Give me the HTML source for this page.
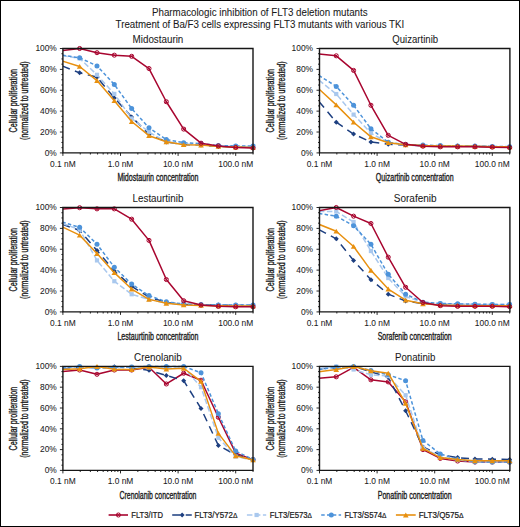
<!DOCTYPE html><html><head><meta charset="utf-8"><style>html,body{margin:0;padding:0;background:#fff;}svg{display:block;font-family:"Liberation Sans",sans-serif;} text{fill:#1a1a1a;stroke:#1a1a1a;stroke-width:0.05px;} text.b{stroke-width:0.35px;fill:#1a1a1a;stroke:#1a1a1a;} text.l{stroke-width:0.22px;} text.t{stroke-width:0.06px;}</style></head><body>
<svg width="520" height="527" viewBox="0 0 520 527">
<rect x="0" y="0" width="520" height="527" fill="#fff"/>
<defs><clipPath id="c0"><rect x="62.9" y="0" width="200.1" height="527"/></clipPath><clipPath id="c1"><rect x="319.5" y="0" width="200.4" height="527"/></clipPath></defs>
<text class="t" x="152.0" y="16.0" font-size="10" textLength="215.6" lengthAdjust="spacingAndGlyphs" fill="#1a1a1a">Pharmacologic inhibition of FLT3 deletion mutants</text>
<text class="t" x="115.6" y="28.4" font-size="10" textLength="288.6" lengthAdjust="spacingAndGlyphs" fill="#1a1a1a">Treatment of Ba/F3 cells expressing FLT3 mutants with various TKI</text>
<text class="t" x="157.95" y="42.90" font-size="10" text-anchor="middle" textLength="50.8" lengthAdjust="spacingAndGlyphs" fill="#1a1a1a">Midostaurin</text>
<g clip-path="url(#c0)">
<polyline points="62.31,66.04 79.65,72.83 96.99,77.21 114.32,97.88 131.66,116.99 149.00,134.11 166.34,141.94 183.68,144.44 201.02,145.07 218.36,146.43 235.70,147.05 253.04,147.47" fill="none" stroke="#1d3f80" stroke-width="1.5" stroke-linejoin="round" stroke-dasharray="8 5.5"/>
<path d="M79.65,70.33L82.15,72.83L79.65,75.33L77.15,72.83Z" fill="#1d3f80"/>
<path d="M96.99,74.71L99.49,77.21L96.99,79.71L94.49,77.21Z" fill="#1d3f80"/>
<path d="M114.32,95.38L116.82,97.88L114.32,100.38L111.82,97.88Z" fill="#1d3f80"/>
<path d="M131.66,114.49L134.16,116.99L131.66,119.49L129.16,116.99Z" fill="#1d3f80"/>
<path d="M149.00,131.61L151.50,134.11L149.00,136.61L146.50,134.11Z" fill="#1d3f80"/>
<path d="M166.34,139.44L168.84,141.94L166.34,144.44L163.84,141.94Z" fill="#1d3f80"/>
<path d="M183.68,141.94L186.18,144.44L183.68,146.94L181.18,144.44Z" fill="#1d3f80"/>
<path d="M201.02,142.57L203.52,145.07L201.02,147.57L198.52,145.07Z" fill="#1d3f80"/>
<path d="M218.36,143.93L220.86,146.43L218.36,148.93L215.86,146.43Z" fill="#1d3f80"/>
<path d="M235.70,144.55L238.20,147.05L235.70,149.55L233.20,147.05Z" fill="#1d3f80"/>
<path d="M253.04,144.97L255.54,147.47L253.04,149.97L250.54,147.47Z" fill="#1d3f80"/>
<polyline points="62.31,55.49 79.65,58.42 96.99,74.81 114.32,93.91 131.66,118.45 149.00,132.02 166.34,141.94 183.68,143.92 201.02,144.97 218.36,145.91 235.70,146.43 253.04,146.43" fill="none" stroke="#a9c8ee" stroke-width="1.5" stroke-linejoin="round" stroke-dasharray="5.5 2.5"/>
<rect x="77.55" y="56.32" width="4.2" height="4.2" fill="#a9c8ee"/>
<rect x="94.89" y="72.71" width="4.2" height="4.2" fill="#a9c8ee"/>
<rect x="112.22" y="91.81" width="4.2" height="4.2" fill="#a9c8ee"/>
<rect x="129.56" y="116.35" width="4.2" height="4.2" fill="#a9c8ee"/>
<rect x="146.90" y="129.92" width="4.2" height="4.2" fill="#a9c8ee"/>
<rect x="164.24" y="139.84" width="4.2" height="4.2" fill="#a9c8ee"/>
<rect x="181.58" y="141.82" width="4.2" height="4.2" fill="#a9c8ee"/>
<rect x="198.92" y="142.87" width="4.2" height="4.2" fill="#a9c8ee"/>
<rect x="216.26" y="143.81" width="4.2" height="4.2" fill="#a9c8ee"/>
<rect x="233.60" y="144.33" width="4.2" height="4.2" fill="#a9c8ee"/>
<rect x="250.94" y="144.33" width="4.2" height="4.2" fill="#a9c8ee"/>
<polyline points="62.31,55.18 79.65,57.79 96.99,65.93 114.32,84.52 131.66,108.53 149.00,127.84 166.34,139.54 183.68,142.67 201.02,143.61 218.36,145.59 235.70,145.91 253.04,145.91" fill="none" stroke="#4d93da" stroke-width="1.5" stroke-linejoin="round" stroke-dasharray="3.5 2.3"/>
<circle cx="79.65" cy="57.79" r="2.5" fill="#4d93da"/>
<circle cx="96.99" cy="65.93" r="2.5" fill="#4d93da"/>
<circle cx="114.32" cy="84.52" r="2.5" fill="#4d93da"/>
<circle cx="131.66" cy="108.53" r="2.5" fill="#4d93da"/>
<circle cx="149.00" cy="127.84" r="2.5" fill="#4d93da"/>
<circle cx="166.34" cy="139.54" r="2.5" fill="#4d93da"/>
<circle cx="183.68" cy="142.67" r="2.5" fill="#4d93da"/>
<circle cx="201.02" cy="143.61" r="2.5" fill="#4d93da"/>
<circle cx="218.36" cy="145.59" r="2.5" fill="#4d93da"/>
<circle cx="235.70" cy="145.91" r="2.5" fill="#4d93da"/>
<circle cx="253.04" cy="145.91" r="2.5" fill="#4d93da"/>
<polyline points="62.31,61.03 79.65,66.46 96.99,80.55 114.32,100.70 131.66,121.48 149.00,135.67 166.34,141.83 183.68,144.65 201.02,145.07 218.36,146.43 235.70,147.05 253.04,147.47" fill="none" stroke="#e8900f" stroke-width="1.5" stroke-linejoin="round"/>
<path d="M79.65,63.96L82.45,68.86L76.85,68.86Z" fill="#e8900f"/>
<path d="M96.99,78.05L99.79,82.95L94.19,82.95Z" fill="#e8900f"/>
<path d="M114.32,98.20L117.12,103.10L111.52,103.10Z" fill="#e8900f"/>
<path d="M131.66,118.98L134.46,123.88L128.86,123.88Z" fill="#e8900f"/>
<path d="M149.00,133.17L151.80,138.07L146.20,138.07Z" fill="#e8900f"/>
<path d="M166.34,139.33L169.14,144.23L163.54,144.23Z" fill="#e8900f"/>
<path d="M183.68,142.15L186.48,147.05L180.88,147.05Z" fill="#e8900f"/>
<path d="M201.02,142.57L203.82,147.47L198.22,147.47Z" fill="#e8900f"/>
<path d="M218.36,143.93L221.16,148.83L215.56,148.83Z" fill="#e8900f"/>
<path d="M235.70,144.55L238.50,149.45L232.90,149.45Z" fill="#e8900f"/>
<path d="M253.04,144.97L255.84,149.87L250.24,149.87Z" fill="#e8900f"/>
<polyline points="62.31,50.59 79.65,48.50 96.99,52.68 114.32,55.18 131.66,56.33 149.00,68.54 166.34,101.74 183.68,129.10 201.02,143.19 218.36,145.91 235.70,147.47 253.04,147.99" fill="none" stroke="#a8052f" stroke-width="1.5" stroke-linejoin="round"/>
<circle cx="79.65" cy="48.50" r="2.05" fill="none" stroke="#a8052f" stroke-width="1.0"/><path d="M78.20,47.05L81.10,49.95M78.20,49.95L81.10,47.05" stroke="#a8052f" stroke-width="0.8"/>
<circle cx="96.99" cy="52.68" r="2.05" fill="none" stroke="#a8052f" stroke-width="1.0"/><path d="M95.54,51.23L98.44,54.13M95.54,54.13L98.44,51.23" stroke="#a8052f" stroke-width="0.8"/>
<circle cx="114.32" cy="55.18" r="2.05" fill="none" stroke="#a8052f" stroke-width="1.0"/><path d="M112.87,53.73L115.77,56.63M112.87,56.63L115.77,53.73" stroke="#a8052f" stroke-width="0.8"/>
<circle cx="131.66" cy="56.33" r="2.05" fill="none" stroke="#a8052f" stroke-width="1.0"/><path d="M130.21,54.88L133.11,57.78M130.21,57.78L133.11,54.88" stroke="#a8052f" stroke-width="0.8"/>
<circle cx="149.00" cy="68.54" r="2.05" fill="none" stroke="#a8052f" stroke-width="1.0"/><path d="M147.55,67.09L150.45,69.99M147.55,69.99L150.45,67.09" stroke="#a8052f" stroke-width="0.8"/>
<circle cx="166.34" cy="101.74" r="2.05" fill="none" stroke="#a8052f" stroke-width="1.0"/><path d="M164.89,100.29L167.79,103.19M164.89,103.19L167.79,100.29" stroke="#a8052f" stroke-width="0.8"/>
<circle cx="183.68" cy="129.10" r="2.05" fill="none" stroke="#a8052f" stroke-width="1.0"/><path d="M182.23,127.65L185.13,130.55M182.23,130.55L185.13,127.65" stroke="#a8052f" stroke-width="0.8"/>
<circle cx="201.02" cy="143.19" r="2.05" fill="none" stroke="#a8052f" stroke-width="1.0"/><path d="M199.57,141.74L202.47,144.64M199.57,144.64L202.47,141.74" stroke="#a8052f" stroke-width="0.8"/>
<circle cx="218.36" cy="145.91" r="2.05" fill="none" stroke="#a8052f" stroke-width="1.0"/><path d="M216.91,144.46L219.81,147.36M216.91,147.36L219.81,144.46" stroke="#a8052f" stroke-width="0.8"/>
<circle cx="235.70" cy="147.47" r="2.05" fill="none" stroke="#a8052f" stroke-width="1.0"/><path d="M234.25,146.02L237.15,148.92M234.25,148.92L237.15,146.02" stroke="#a8052f" stroke-width="0.8"/>
<circle cx="253.04" cy="147.99" r="2.05" fill="none" stroke="#a8052f" stroke-width="1.0"/><path d="M251.59,146.54L254.49,149.44M251.59,149.44L254.49,146.54" stroke="#a8052f" stroke-width="0.8"/>
</g>
<path d="M62.9,48.5H253.0V152.9H62.9Z" fill="none" stroke="#161616" stroke-width="1.4"/>
<path d="M59.90,48.50H62.9 M61.40,53.72H62.9 M61.40,58.94H62.9 M61.40,64.16H62.9 M59.90,69.38H62.9 M61.40,74.60H62.9 M61.40,79.82H62.9 M61.40,85.04H62.9 M59.90,90.26H62.9 M61.40,95.48H62.9 M61.40,100.70H62.9 M61.40,105.92H62.9 M59.90,111.14H62.9 M61.40,116.36H62.9 M61.40,121.58H62.9 M61.40,126.80H62.9 M59.90,132.02H62.9 M61.40,137.24H62.9 M61.40,142.46H62.9 M61.40,147.68H62.9 M59.90,152.90H62.9 M62.90,152.9V155.90 M80.24,152.9V154.50 M90.38,152.9V154.50 M97.58,152.9V154.50 M103.16,152.9V154.50 M107.72,152.9V154.50 M111.58,152.9V154.50 M114.92,152.9V154.50 M117.86,152.9V154.50 M120.50,152.9V155.90 M137.84,152.9V154.50 M147.98,152.9V154.50 M155.18,152.9V154.50 M160.76,152.9V154.50 M165.32,152.9V154.50 M169.18,152.9V154.50 M172.52,152.9V154.50 M175.46,152.9V154.50 M178.10,152.9V155.90 M195.44,152.9V154.50 M205.58,152.9V154.50 M212.78,152.9V154.50 M218.36,152.9V154.50 M222.92,152.9V154.50 M226.78,152.9V154.50 M230.12,152.9V154.50 M233.06,152.9V154.50 M235.70,152.9V155.90 M253.04,152.9V154.50" stroke="#111" stroke-width="0.9" fill="none"/>
<text x="56.80" y="51.30" font-size="8.4" text-anchor="end" fill="#1a1a1a">100%</text>
<text x="56.80" y="72.18" font-size="8.4" text-anchor="end" fill="#1a1a1a">80%</text>
<text x="56.80" y="93.06" font-size="8.4" text-anchor="end" fill="#1a1a1a">60%</text>
<text x="56.80" y="113.94" font-size="8.4" text-anchor="end" fill="#1a1a1a">40%</text>
<text x="56.80" y="134.82" font-size="8.4" text-anchor="end" fill="#1a1a1a">20%</text>
<text x="56.80" y="155.70" font-size="8.4" text-anchor="end" fill="#1a1a1a">0%</text>
<text x="62.90" y="166.70" font-size="8.4" text-anchor="middle" fill="#1a1a1a">0.1 nM</text>
<text x="120.50" y="166.70" font-size="8.4" text-anchor="middle" fill="#1a1a1a">1.0 nM</text>
<text x="178.10" y="166.70" font-size="8.4" text-anchor="middle" fill="#1a1a1a">10.0 nM</text>
<text x="235.70" y="166.70" font-size="8.4" text-anchor="middle" fill="#1a1a1a">100.0 nM</text>
<text x="157.95" y="180.60" font-size="10.6" class="b" text-anchor="middle" textLength="81.1" lengthAdjust="spacingAndGlyphs" fill="#1a1a1a">Midostaurin concentration</text>
<text transform="translate(16.50,100.70) rotate(-90)" x="0" y="0" font-size="10.4" class="b" text-anchor="middle" textLength="63.6" lengthAdjust="spacingAndGlyphs" fill="#1a1a1a">Cellular proliferation</text>
<text transform="translate(27.60,100.70) rotate(-90)" x="0" y="0" font-size="10.4" class="b" text-anchor="middle" textLength="78.4" lengthAdjust="spacingAndGlyphs" fill="#1a1a1a">(normalized to untreated)</text>
<text class="t" x="415.20" y="42.90" font-size="10" text-anchor="middle" textLength="45.8" lengthAdjust="spacingAndGlyphs" fill="#1a1a1a">Quizartinib</text>
<g clip-path="url(#c1)">
<polyline points="318.91,101.43 336.25,122.21 353.59,134.11 370.92,141.94 388.26,144.23 405.60,145.07 422.94,145.59 440.28,145.91 457.62,146.11 474.96,146.32 492.30,146.64 509.64,146.84" fill="none" stroke="#1d3f80" stroke-width="1.5" stroke-linejoin="round" stroke-dasharray="8 5.5"/>
<path d="M336.25,119.71L338.75,122.21L336.25,124.71L333.75,122.21Z" fill="#1d3f80"/>
<path d="M353.59,131.61L356.09,134.11L353.59,136.61L351.09,134.11Z" fill="#1d3f80"/>
<path d="M370.92,139.44L373.42,141.94L370.92,144.44L368.42,141.94Z" fill="#1d3f80"/>
<path d="M388.26,141.73L390.76,144.23L388.26,146.73L385.76,144.23Z" fill="#1d3f80"/>
<path d="M405.60,142.57L408.10,145.07L405.60,147.57L403.10,145.07Z" fill="#1d3f80"/>
<path d="M422.94,143.09L425.44,145.59L422.94,148.09L420.44,145.59Z" fill="#1d3f80"/>
<path d="M440.28,143.41L442.78,145.91L440.28,148.41L437.78,145.91Z" fill="#1d3f80"/>
<path d="M457.62,143.61L460.12,146.11L457.62,148.61L455.12,146.11Z" fill="#1d3f80"/>
<path d="M474.96,143.82L477.46,146.32L474.96,148.82L472.46,146.32Z" fill="#1d3f80"/>
<path d="M492.30,144.14L494.80,146.64L492.30,149.14L489.80,146.64Z" fill="#1d3f80"/>
<path d="M509.64,144.34L512.14,146.84L509.64,149.34L507.14,146.84Z" fill="#1d3f80"/>
<polyline points="318.91,80.13 336.25,94.02 353.59,114.59 370.92,133.06 388.26,142.88 405.60,144.76 422.94,145.59 440.28,145.91 457.62,146.11 474.96,146.32 492.30,146.64 509.64,146.84" fill="none" stroke="#a9c8ee" stroke-width="1.5" stroke-linejoin="round" stroke-dasharray="5.5 2.5"/>
<rect x="334.15" y="91.92" width="4.2" height="4.2" fill="#a9c8ee"/>
<rect x="351.49" y="112.49" width="4.2" height="4.2" fill="#a9c8ee"/>
<rect x="368.82" y="130.96" width="4.2" height="4.2" fill="#a9c8ee"/>
<rect x="386.16" y="140.78" width="4.2" height="4.2" fill="#a9c8ee"/>
<rect x="403.50" y="142.66" width="4.2" height="4.2" fill="#a9c8ee"/>
<rect x="420.84" y="143.49" width="4.2" height="4.2" fill="#a9c8ee"/>
<rect x="438.18" y="143.81" width="4.2" height="4.2" fill="#a9c8ee"/>
<rect x="455.52" y="144.01" width="4.2" height="4.2" fill="#a9c8ee"/>
<rect x="472.86" y="144.22" width="4.2" height="4.2" fill="#a9c8ee"/>
<rect x="490.20" y="144.54" width="4.2" height="4.2" fill="#a9c8ee"/>
<rect x="507.54" y="144.74" width="4.2" height="4.2" fill="#a9c8ee"/>
<polyline points="318.91,75.44 336.25,86.40 353.59,105.29 370.92,128.78 388.26,142.25 405.60,144.55 422.94,145.07 440.28,145.59 457.62,145.91 474.96,146.11 492.30,146.43 509.64,146.64" fill="none" stroke="#4d93da" stroke-width="1.5" stroke-linejoin="round" stroke-dasharray="3.5 2.3"/>
<circle cx="336.25" cy="86.40" r="2.5" fill="#4d93da"/>
<circle cx="353.59" cy="105.29" r="2.5" fill="#4d93da"/>
<circle cx="370.92" cy="128.78" r="2.5" fill="#4d93da"/>
<circle cx="388.26" cy="142.25" r="2.5" fill="#4d93da"/>
<circle cx="405.60" cy="144.55" r="2.5" fill="#4d93da"/>
<circle cx="422.94" cy="145.07" r="2.5" fill="#4d93da"/>
<circle cx="440.28" cy="145.59" r="2.5" fill="#4d93da"/>
<circle cx="457.62" cy="145.91" r="2.5" fill="#4d93da"/>
<circle cx="474.96" cy="146.11" r="2.5" fill="#4d93da"/>
<circle cx="492.30" cy="146.43" r="2.5" fill="#4d93da"/>
<circle cx="509.64" cy="146.64" r="2.5" fill="#4d93da"/>
<polyline points="318.91,89.01 336.25,104.88 353.59,122.21 370.92,136.82 388.26,142.67 405.60,144.76 422.94,145.59 440.28,145.91 457.62,146.11 474.96,146.32 492.30,146.64 509.64,146.84" fill="none" stroke="#e8900f" stroke-width="1.5" stroke-linejoin="round"/>
<path d="M336.25,102.38L339.05,107.28L333.45,107.28Z" fill="#e8900f"/>
<path d="M353.59,119.71L356.39,124.61L350.79,124.61Z" fill="#e8900f"/>
<path d="M370.92,134.32L373.72,139.22L368.12,139.22Z" fill="#e8900f"/>
<path d="M388.26,140.17L391.06,145.07L385.46,145.07Z" fill="#e8900f"/>
<path d="M405.60,142.26L408.40,147.16L402.80,147.16Z" fill="#e8900f"/>
<path d="M422.94,143.09L425.74,147.99L420.14,147.99Z" fill="#e8900f"/>
<path d="M440.28,143.41L443.08,148.31L437.48,148.31Z" fill="#e8900f"/>
<path d="M457.62,143.61L460.42,148.51L454.82,148.51Z" fill="#e8900f"/>
<path d="M474.96,143.82L477.76,148.72L472.16,148.72Z" fill="#e8900f"/>
<path d="M492.30,144.14L495.10,149.04L489.50,149.04Z" fill="#e8900f"/>
<path d="M509.64,144.34L512.44,149.24L506.84,149.24Z" fill="#e8900f"/>
<polyline points="318.91,54.03 336.25,55.81 353.59,70.42 370.92,105.29 388.26,135.36 405.60,144.34 422.94,146.22 440.28,146.84 457.62,146.84 474.96,146.84 492.30,147.16 509.64,147.58" fill="none" stroke="#a8052f" stroke-width="1.5" stroke-linejoin="round"/>
<circle cx="336.25" cy="55.81" r="2.05" fill="none" stroke="#a8052f" stroke-width="1.0"/><path d="M334.80,54.36L337.70,57.26M334.80,57.26L337.70,54.36" stroke="#a8052f" stroke-width="0.8"/>
<circle cx="353.59" cy="70.42" r="2.05" fill="none" stroke="#a8052f" stroke-width="1.0"/><path d="M352.14,68.97L355.04,71.87M352.14,71.87L355.04,68.97" stroke="#a8052f" stroke-width="0.8"/>
<circle cx="370.92" cy="105.29" r="2.05" fill="none" stroke="#a8052f" stroke-width="1.0"/><path d="M369.47,103.84L372.37,106.74M369.47,106.74L372.37,103.84" stroke="#a8052f" stroke-width="0.8"/>
<circle cx="388.26" cy="135.36" r="2.05" fill="none" stroke="#a8052f" stroke-width="1.0"/><path d="M386.81,133.91L389.71,136.81M386.81,136.81L389.71,133.91" stroke="#a8052f" stroke-width="0.8"/>
<circle cx="405.60" cy="144.34" r="2.05" fill="none" stroke="#a8052f" stroke-width="1.0"/><path d="M404.15,142.89L407.05,145.79M404.15,145.79L407.05,142.89" stroke="#a8052f" stroke-width="0.8"/>
<circle cx="422.94" cy="146.22" r="2.05" fill="none" stroke="#a8052f" stroke-width="1.0"/><path d="M421.49,144.77L424.39,147.67M421.49,147.67L424.39,144.77" stroke="#a8052f" stroke-width="0.8"/>
<circle cx="440.28" cy="146.84" r="2.05" fill="none" stroke="#a8052f" stroke-width="1.0"/><path d="M438.83,145.39L441.73,148.29M438.83,148.29L441.73,145.39" stroke="#a8052f" stroke-width="0.8"/>
<circle cx="457.62" cy="146.84" r="2.05" fill="none" stroke="#a8052f" stroke-width="1.0"/><path d="M456.17,145.39L459.07,148.29M456.17,148.29L459.07,145.39" stroke="#a8052f" stroke-width="0.8"/>
<circle cx="474.96" cy="146.84" r="2.05" fill="none" stroke="#a8052f" stroke-width="1.0"/><path d="M473.51,145.39L476.41,148.29M473.51,148.29L476.41,145.39" stroke="#a8052f" stroke-width="0.8"/>
<circle cx="492.30" cy="147.16" r="2.05" fill="none" stroke="#a8052f" stroke-width="1.0"/><path d="M490.85,145.71L493.75,148.61M490.85,148.61L493.75,145.71" stroke="#a8052f" stroke-width="0.8"/>
<circle cx="509.64" cy="147.58" r="2.05" fill="none" stroke="#a8052f" stroke-width="1.0"/><path d="M508.19,146.13L511.09,149.03M508.19,149.03L511.09,146.13" stroke="#a8052f" stroke-width="0.8"/>
</g>
<path d="M319.5,48.5H509.9V152.9H319.5Z" fill="none" stroke="#161616" stroke-width="1.4"/>
<path d="M316.50,48.50H319.5 M318.00,53.72H319.5 M318.00,58.94H319.5 M318.00,64.16H319.5 M316.50,69.38H319.5 M318.00,74.60H319.5 M318.00,79.82H319.5 M318.00,85.04H319.5 M316.50,90.26H319.5 M318.00,95.48H319.5 M318.00,100.70H319.5 M318.00,105.92H319.5 M316.50,111.14H319.5 M318.00,116.36H319.5 M318.00,121.58H319.5 M318.00,126.80H319.5 M316.50,132.02H319.5 M318.00,137.24H319.5 M318.00,142.46H319.5 M318.00,147.68H319.5 M316.50,152.90H319.5 M319.50,152.9V155.90 M336.84,152.9V154.50 M346.98,152.9V154.50 M354.18,152.9V154.50 M359.76,152.9V154.50 M364.32,152.9V154.50 M368.18,152.9V154.50 M371.52,152.9V154.50 M374.46,152.9V154.50 M377.10,152.9V155.90 M394.44,152.9V154.50 M404.58,152.9V154.50 M411.78,152.9V154.50 M417.36,152.9V154.50 M421.92,152.9V154.50 M425.78,152.9V154.50 M429.12,152.9V154.50 M432.06,152.9V154.50 M434.70,152.9V155.90 M452.04,152.9V154.50 M462.18,152.9V154.50 M469.38,152.9V154.50 M474.96,152.9V154.50 M479.52,152.9V154.50 M483.38,152.9V154.50 M486.72,152.9V154.50 M489.66,152.9V154.50 M492.30,152.9V155.90 M509.64,152.9V154.50" stroke="#111" stroke-width="0.9" fill="none"/>
<text x="313.00" y="51.30" font-size="8.4" text-anchor="end" fill="#1a1a1a">100%</text>
<text x="313.00" y="72.18" font-size="8.4" text-anchor="end" fill="#1a1a1a">80%</text>
<text x="313.00" y="93.06" font-size="8.4" text-anchor="end" fill="#1a1a1a">60%</text>
<text x="313.00" y="113.94" font-size="8.4" text-anchor="end" fill="#1a1a1a">40%</text>
<text x="313.00" y="134.82" font-size="8.4" text-anchor="end" fill="#1a1a1a">20%</text>
<text x="313.00" y="155.70" font-size="8.4" text-anchor="end" fill="#1a1a1a">0%</text>
<text x="319.50" y="166.70" font-size="8.4" text-anchor="middle" fill="#1a1a1a">0.1 nM</text>
<text x="377.10" y="166.70" font-size="8.4" text-anchor="middle" fill="#1a1a1a">1.0 nM</text>
<text x="434.70" y="166.70" font-size="8.4" text-anchor="middle" fill="#1a1a1a">10.0 nM</text>
<text x="492.30" y="166.70" font-size="8.4" text-anchor="middle" fill="#1a1a1a">100.0 nM</text>
<text x="414.70" y="180.60" font-size="10.6" class="b" text-anchor="middle" textLength="77.9" lengthAdjust="spacingAndGlyphs" fill="#1a1a1a">Quizartinib concentration</text>
<text transform="translate(273.50,100.70) rotate(-90)" x="0" y="0" font-size="10.4" class="b" text-anchor="middle" textLength="63.6" lengthAdjust="spacingAndGlyphs" fill="#1a1a1a">Cellular proliferation</text>
<text transform="translate(284.60,100.70) rotate(-90)" x="0" y="0" font-size="10.4" class="b" text-anchor="middle" textLength="78.4" lengthAdjust="spacingAndGlyphs" fill="#1a1a1a">(normalized to untreated)</text>
<text class="t" x="157.95" y="201.90" font-size="10" text-anchor="middle" textLength="50.8" lengthAdjust="spacingAndGlyphs" fill="#1a1a1a">Lestaurtinib</text>
<g clip-path="url(#c0)">
<polyline points="62.31,224.31 79.65,230.47 96.99,250.41 114.32,271.08 131.66,286.32 149.00,297.08 166.34,302.50 183.68,304.38 201.02,304.80 218.36,305.11 235.70,305.32 253.04,305.32" fill="none" stroke="#1d3f80" stroke-width="1.5" stroke-linejoin="round" stroke-dasharray="8 5.5"/>
<path d="M79.65,227.97L82.15,230.47L79.65,232.97L77.15,230.47Z" fill="#1d3f80"/>
<path d="M96.99,247.91L99.49,250.41L96.99,252.91L94.49,250.41Z" fill="#1d3f80"/>
<path d="M114.32,268.58L116.82,271.08L114.32,273.58L111.82,271.08Z" fill="#1d3f80"/>
<path d="M131.66,283.82L134.16,286.32L131.66,288.82L129.16,286.32Z" fill="#1d3f80"/>
<path d="M149.00,294.58L151.50,297.08L149.00,299.58L146.50,297.08Z" fill="#1d3f80"/>
<path d="M166.34,300.00L168.84,302.50L166.34,305.00L163.84,302.50Z" fill="#1d3f80"/>
<path d="M183.68,301.88L186.18,304.38L183.68,306.88L181.18,304.38Z" fill="#1d3f80"/>
<path d="M201.02,302.30L203.52,304.80L201.02,307.30L198.52,304.80Z" fill="#1d3f80"/>
<path d="M218.36,302.61L220.86,305.11L218.36,307.61L215.86,305.11Z" fill="#1d3f80"/>
<path d="M235.70,302.82L238.20,305.32L235.70,307.82L233.20,305.32Z" fill="#1d3f80"/>
<path d="M253.04,302.82L255.54,305.32L253.04,307.82L250.54,305.32Z" fill="#1d3f80"/>
<polyline points="62.31,223.47 79.65,229.63 96.99,260.43 114.32,281.21 131.66,294.26 149.00,299.37 166.34,303.03 183.68,304.38 201.02,304.80 218.36,305.11 235.70,305.32 253.04,305.32" fill="none" stroke="#a9c8ee" stroke-width="1.5" stroke-linejoin="round" stroke-dasharray="5.5 2.5"/>
<rect x="77.55" y="227.53" width="4.2" height="4.2" fill="#a9c8ee"/>
<rect x="94.89" y="258.33" width="4.2" height="4.2" fill="#a9c8ee"/>
<rect x="112.22" y="279.11" width="4.2" height="4.2" fill="#a9c8ee"/>
<rect x="129.56" y="292.16" width="4.2" height="4.2" fill="#a9c8ee"/>
<rect x="146.90" y="297.27" width="4.2" height="4.2" fill="#a9c8ee"/>
<rect x="164.24" y="300.93" width="4.2" height="4.2" fill="#a9c8ee"/>
<rect x="181.58" y="302.28" width="4.2" height="4.2" fill="#a9c8ee"/>
<rect x="198.92" y="302.70" width="4.2" height="4.2" fill="#a9c8ee"/>
<rect x="216.26" y="303.01" width="4.2" height="4.2" fill="#a9c8ee"/>
<rect x="233.60" y="303.22" width="4.2" height="4.2" fill="#a9c8ee"/>
<rect x="250.94" y="303.22" width="4.2" height="4.2" fill="#a9c8ee"/>
<polyline points="62.31,222.01 79.65,227.34 96.99,244.14 114.32,267.22 131.66,284.03 149.00,295.61 166.34,301.77 183.68,304.07 201.02,304.59 218.36,304.91 235.70,305.11 253.04,305.11" fill="none" stroke="#4d93da" stroke-width="1.5" stroke-linejoin="round" stroke-dasharray="3.5 2.3"/>
<circle cx="79.65" cy="227.34" r="2.5" fill="#4d93da"/>
<circle cx="96.99" cy="244.14" r="2.5" fill="#4d93da"/>
<circle cx="114.32" cy="267.22" r="2.5" fill="#4d93da"/>
<circle cx="131.66" cy="284.03" r="2.5" fill="#4d93da"/>
<circle cx="149.00" cy="295.61" r="2.5" fill="#4d93da"/>
<circle cx="166.34" cy="301.77" r="2.5" fill="#4d93da"/>
<circle cx="183.68" cy="304.07" r="2.5" fill="#4d93da"/>
<circle cx="201.02" cy="304.59" r="2.5" fill="#4d93da"/>
<circle cx="218.36" cy="304.91" r="2.5" fill="#4d93da"/>
<circle cx="235.70" cy="305.11" r="2.5" fill="#4d93da"/>
<circle cx="253.04" cy="305.11" r="2.5" fill="#4d93da"/>
<polyline points="62.31,226.92 79.65,235.17 96.99,253.54 114.32,272.65 131.66,289.04 149.00,299.37 166.34,303.23 183.68,304.91 201.02,305.43 218.36,305.74 235.70,305.95 253.04,305.95" fill="none" stroke="#e8900f" stroke-width="1.5" stroke-linejoin="round"/>
<path d="M79.65,232.67L82.45,237.57L76.85,237.57Z" fill="#e8900f"/>
<path d="M96.99,251.04L99.79,255.94L94.19,255.94Z" fill="#e8900f"/>
<path d="M114.32,270.15L117.12,275.05L111.52,275.05Z" fill="#e8900f"/>
<path d="M131.66,286.54L134.46,291.44L128.86,291.44Z" fill="#e8900f"/>
<path d="M149.00,296.87L151.80,301.77L146.20,301.77Z" fill="#e8900f"/>
<path d="M166.34,300.73L169.14,305.63L163.54,305.63Z" fill="#e8900f"/>
<path d="M183.68,302.41L186.48,307.31L180.88,307.31Z" fill="#e8900f"/>
<path d="M201.02,302.93L203.82,307.83L198.22,307.83Z" fill="#e8900f"/>
<path d="M218.36,303.24L221.16,308.14L215.56,308.14Z" fill="#e8900f"/>
<path d="M235.70,303.45L238.50,308.35L232.90,308.35Z" fill="#e8900f"/>
<path d="M253.04,303.45L255.84,308.35L250.24,308.35Z" fill="#e8900f"/>
<polyline points="62.31,209.17 79.65,207.71 96.99,208.86 114.32,208.86 131.66,219.19 149.00,240.39 166.34,279.54 183.68,300.73 201.02,305.01 218.36,306.37 235.70,306.78 253.04,306.78" fill="none" stroke="#a8052f" stroke-width="1.5" stroke-linejoin="round"/>
<circle cx="79.65" cy="207.71" r="2.05" fill="none" stroke="#a8052f" stroke-width="1.0"/><path d="M78.20,206.26L81.10,209.16M78.20,209.16L81.10,206.26" stroke="#a8052f" stroke-width="0.8"/>
<circle cx="96.99" cy="208.86" r="2.05" fill="none" stroke="#a8052f" stroke-width="1.0"/><path d="M95.54,207.41L98.44,210.31M95.54,210.31L98.44,207.41" stroke="#a8052f" stroke-width="0.8"/>
<circle cx="114.32" cy="208.86" r="2.05" fill="none" stroke="#a8052f" stroke-width="1.0"/><path d="M112.87,207.41L115.77,210.31M112.87,210.31L115.77,207.41" stroke="#a8052f" stroke-width="0.8"/>
<circle cx="131.66" cy="219.19" r="2.05" fill="none" stroke="#a8052f" stroke-width="1.0"/><path d="M130.21,217.74L133.11,220.64M130.21,220.64L133.11,217.74" stroke="#a8052f" stroke-width="0.8"/>
<circle cx="149.00" cy="240.39" r="2.05" fill="none" stroke="#a8052f" stroke-width="1.0"/><path d="M147.55,238.94L150.45,241.84M147.55,241.84L150.45,238.94" stroke="#a8052f" stroke-width="0.8"/>
<circle cx="166.34" cy="279.54" r="2.05" fill="none" stroke="#a8052f" stroke-width="1.0"/><path d="M164.89,278.09L167.79,280.99M164.89,280.99L167.79,278.09" stroke="#a8052f" stroke-width="0.8"/>
<circle cx="183.68" cy="300.73" r="2.05" fill="none" stroke="#a8052f" stroke-width="1.0"/><path d="M182.23,299.28L185.13,302.18M182.23,302.18L185.13,299.28" stroke="#a8052f" stroke-width="0.8"/>
<circle cx="201.02" cy="305.01" r="2.05" fill="none" stroke="#a8052f" stroke-width="1.0"/><path d="M199.57,303.56L202.47,306.46M199.57,306.46L202.47,303.56" stroke="#a8052f" stroke-width="0.8"/>
<circle cx="218.36" cy="306.37" r="2.05" fill="none" stroke="#a8052f" stroke-width="1.0"/><path d="M216.91,304.92L219.81,307.82M216.91,307.82L219.81,304.92" stroke="#a8052f" stroke-width="0.8"/>
<circle cx="235.70" cy="306.78" r="2.05" fill="none" stroke="#a8052f" stroke-width="1.0"/><path d="M234.25,305.33L237.15,308.23M234.25,308.23L237.15,305.33" stroke="#a8052f" stroke-width="0.8"/>
<circle cx="253.04" cy="306.78" r="2.05" fill="none" stroke="#a8052f" stroke-width="1.0"/><path d="M251.59,305.33L254.49,308.23M251.59,308.23L254.49,305.33" stroke="#a8052f" stroke-width="0.8"/>
</g>
<path d="M62.9,207.5H253.0V311.9H62.9Z" fill="none" stroke="#161616" stroke-width="1.4"/>
<path d="M59.90,207.50H62.9 M61.40,212.72H62.9 M61.40,217.94H62.9 M61.40,223.16H62.9 M59.90,228.38H62.9 M61.40,233.60H62.9 M61.40,238.82H62.9 M61.40,244.04H62.9 M59.90,249.26H62.9 M61.40,254.48H62.9 M61.40,259.70H62.9 M61.40,264.92H62.9 M59.90,270.14H62.9 M61.40,275.36H62.9 M61.40,280.58H62.9 M61.40,285.80H62.9 M59.90,291.02H62.9 M61.40,296.24H62.9 M61.40,301.46H62.9 M61.40,306.68H62.9 M59.90,311.90H62.9 M62.90,311.9V314.90 M80.24,311.9V313.50 M90.38,311.9V313.50 M97.58,311.9V313.50 M103.16,311.9V313.50 M107.72,311.9V313.50 M111.58,311.9V313.50 M114.92,311.9V313.50 M117.86,311.9V313.50 M120.50,311.9V314.90 M137.84,311.9V313.50 M147.98,311.9V313.50 M155.18,311.9V313.50 M160.76,311.9V313.50 M165.32,311.9V313.50 M169.18,311.9V313.50 M172.52,311.9V313.50 M175.46,311.9V313.50 M178.10,311.9V314.90 M195.44,311.9V313.50 M205.58,311.9V313.50 M212.78,311.9V313.50 M218.36,311.9V313.50 M222.92,311.9V313.50 M226.78,311.9V313.50 M230.12,311.9V313.50 M233.06,311.9V313.50 M235.70,311.9V314.90 M253.04,311.9V313.50" stroke="#111" stroke-width="0.9" fill="none"/>
<text x="56.80" y="210.30" font-size="8.4" text-anchor="end" fill="#1a1a1a">100%</text>
<text x="56.80" y="231.18" font-size="8.4" text-anchor="end" fill="#1a1a1a">80%</text>
<text x="56.80" y="252.06" font-size="8.4" text-anchor="end" fill="#1a1a1a">60%</text>
<text x="56.80" y="272.94" font-size="8.4" text-anchor="end" fill="#1a1a1a">40%</text>
<text x="56.80" y="293.82" font-size="8.4" text-anchor="end" fill="#1a1a1a">20%</text>
<text x="56.80" y="314.70" font-size="8.4" text-anchor="end" fill="#1a1a1a">0%</text>
<text x="62.90" y="325.70" font-size="8.4" text-anchor="middle" fill="#1a1a1a">0.1 nM</text>
<text x="120.50" y="325.70" font-size="8.4" text-anchor="middle" fill="#1a1a1a">1.0 nM</text>
<text x="178.10" y="325.70" font-size="8.4" text-anchor="middle" fill="#1a1a1a">10.0 nM</text>
<text x="235.70" y="325.70" font-size="8.4" text-anchor="middle" fill="#1a1a1a">100.0 nM</text>
<text x="157.95" y="339.60" font-size="10.6" class="b" text-anchor="middle" textLength="81.1" lengthAdjust="spacingAndGlyphs" fill="#1a1a1a">Lestaurtinib concentration</text>
<text transform="translate(16.50,259.70) rotate(-90)" x="0" y="0" font-size="10.4" class="b" text-anchor="middle" textLength="63.6" lengthAdjust="spacingAndGlyphs" fill="#1a1a1a">Cellular proliferation</text>
<text transform="translate(27.60,259.70) rotate(-90)" x="0" y="0" font-size="10.4" class="b" text-anchor="middle" textLength="78.4" lengthAdjust="spacingAndGlyphs" fill="#1a1a1a">(normalized to untreated)</text>
<text class="t" x="415.20" y="201.90" font-size="10" text-anchor="middle" textLength="42.8" lengthAdjust="spacingAndGlyphs" fill="#1a1a1a">Sorafenib</text>
<g clip-path="url(#c1)">
<polyline points="318.91,229.63 336.25,238.82 353.59,260.43 370.92,279.64 388.26,294.15 405.60,301.04 422.94,303.55 440.28,304.59 457.62,305.11 474.96,305.32 492.30,305.43 509.64,305.43" fill="none" stroke="#1d3f80" stroke-width="1.5" stroke-linejoin="round" stroke-dasharray="8 5.5"/>
<path d="M336.25,236.32L338.75,238.82L336.25,241.32L333.75,238.82Z" fill="#1d3f80"/>
<path d="M353.59,257.93L356.09,260.43L353.59,262.93L351.09,260.43Z" fill="#1d3f80"/>
<path d="M370.92,277.14L373.42,279.64L370.92,282.14L368.42,279.64Z" fill="#1d3f80"/>
<path d="M388.26,291.65L390.76,294.15L388.26,296.65L385.76,294.15Z" fill="#1d3f80"/>
<path d="M405.60,298.54L408.10,301.04L405.60,303.54L403.10,301.04Z" fill="#1d3f80"/>
<path d="M422.94,301.05L425.44,303.55L422.94,306.05L420.44,303.55Z" fill="#1d3f80"/>
<path d="M440.28,302.09L442.78,304.59L440.28,307.09L437.78,304.59Z" fill="#1d3f80"/>
<path d="M457.62,302.61L460.12,305.11L457.62,307.61L455.12,305.11Z" fill="#1d3f80"/>
<path d="M474.96,302.82L477.46,305.32L474.96,307.82L472.46,305.32Z" fill="#1d3f80"/>
<path d="M492.30,302.93L494.80,305.43L492.30,307.93L489.80,305.43Z" fill="#1d3f80"/>
<path d="M509.64,302.93L512.14,305.43L509.64,307.93L507.14,305.43Z" fill="#1d3f80"/>
<polyline points="318.91,211.47 336.25,211.47 353.59,222.01 370.92,251.03 388.26,278.07 405.60,296.45 422.94,302.50 440.28,303.55 457.62,304.07 474.96,304.38 492.30,304.38 509.64,304.38" fill="none" stroke="#a9c8ee" stroke-width="1.5" stroke-linejoin="round" stroke-dasharray="5.5 2.5"/>
<rect x="334.15" y="209.37" width="4.2" height="4.2" fill="#a9c8ee"/>
<rect x="351.49" y="219.91" width="4.2" height="4.2" fill="#a9c8ee"/>
<rect x="368.82" y="248.93" width="4.2" height="4.2" fill="#a9c8ee"/>
<rect x="386.16" y="275.97" width="4.2" height="4.2" fill="#a9c8ee"/>
<rect x="403.50" y="294.35" width="4.2" height="4.2" fill="#a9c8ee"/>
<rect x="420.84" y="300.40" width="4.2" height="4.2" fill="#a9c8ee"/>
<rect x="438.18" y="301.45" width="4.2" height="4.2" fill="#a9c8ee"/>
<rect x="455.52" y="301.97" width="4.2" height="4.2" fill="#a9c8ee"/>
<rect x="472.86" y="302.28" width="4.2" height="4.2" fill="#a9c8ee"/>
<rect x="490.20" y="302.28" width="4.2" height="4.2" fill="#a9c8ee"/>
<rect x="507.54" y="302.28" width="4.2" height="4.2" fill="#a9c8ee"/>
<polyline points="318.91,213.45 336.25,216.17 353.59,225.77 370.92,244.35 388.26,274.21 405.60,294.15 422.94,302.19 440.28,303.44 457.62,303.86 474.96,304.17 492.30,304.38 509.64,304.38" fill="none" stroke="#4d93da" stroke-width="1.5" stroke-linejoin="round" stroke-dasharray="3.5 2.3"/>
<circle cx="336.25" cy="216.17" r="2.5" fill="#4d93da"/>
<circle cx="353.59" cy="225.77" r="2.5" fill="#4d93da"/>
<circle cx="370.92" cy="244.35" r="2.5" fill="#4d93da"/>
<circle cx="388.26" cy="274.21" r="2.5" fill="#4d93da"/>
<circle cx="405.60" cy="294.15" r="2.5" fill="#4d93da"/>
<circle cx="422.94" cy="302.19" r="2.5" fill="#4d93da"/>
<circle cx="440.28" cy="303.44" r="2.5" fill="#4d93da"/>
<circle cx="457.62" cy="303.86" r="2.5" fill="#4d93da"/>
<circle cx="474.96" cy="304.17" r="2.5" fill="#4d93da"/>
<circle cx="492.30" cy="304.38" r="2.5" fill="#4d93da"/>
<circle cx="509.64" cy="304.38" r="2.5" fill="#4d93da"/>
<polyline points="318.91,224.31 336.25,231.20 353.59,246.44 370.92,270.35 388.26,289.04 405.60,300.21 422.94,303.76 440.28,304.91 457.62,305.43 474.96,305.64 492.30,305.64 509.64,305.64" fill="none" stroke="#e8900f" stroke-width="1.5" stroke-linejoin="round"/>
<path d="M336.25,228.70L339.05,233.60L333.45,233.60Z" fill="#e8900f"/>
<path d="M353.59,243.94L356.39,248.84L350.79,248.84Z" fill="#e8900f"/>
<path d="M370.92,267.85L373.72,272.75L368.12,272.75Z" fill="#e8900f"/>
<path d="M388.26,286.54L391.06,291.44L385.46,291.44Z" fill="#e8900f"/>
<path d="M405.60,297.71L408.40,302.61L402.80,302.61Z" fill="#e8900f"/>
<path d="M422.94,301.26L425.74,306.16L420.14,306.16Z" fill="#e8900f"/>
<path d="M440.28,302.41L443.08,307.31L437.48,307.31Z" fill="#e8900f"/>
<path d="M457.62,302.93L460.42,307.83L454.82,307.83Z" fill="#e8900f"/>
<path d="M474.96,303.14L477.76,308.04L472.16,308.04Z" fill="#e8900f"/>
<path d="M492.30,303.14L495.10,308.04L489.50,308.04Z" fill="#e8900f"/>
<path d="M509.64,303.14L512.44,308.04L506.84,308.04Z" fill="#e8900f"/>
<polyline points="318.91,210.84 336.25,207.50 353.59,216.17 370.92,223.47 388.26,257.19 405.60,287.26 422.94,302.50 440.28,305.64 457.62,306.37 474.96,306.37 492.30,306.37 509.64,306.68" fill="none" stroke="#a8052f" stroke-width="1.5" stroke-linejoin="round"/>
<circle cx="336.25" cy="207.50" r="2.05" fill="none" stroke="#a8052f" stroke-width="1.0"/><path d="M334.80,206.05L337.70,208.95M334.80,208.95L337.70,206.05" stroke="#a8052f" stroke-width="0.8"/>
<circle cx="353.59" cy="216.17" r="2.05" fill="none" stroke="#a8052f" stroke-width="1.0"/><path d="M352.14,214.72L355.04,217.62M352.14,217.62L355.04,214.72" stroke="#a8052f" stroke-width="0.8"/>
<circle cx="370.92" cy="223.47" r="2.05" fill="none" stroke="#a8052f" stroke-width="1.0"/><path d="M369.47,222.02L372.37,224.92M369.47,224.92L372.37,222.02" stroke="#a8052f" stroke-width="0.8"/>
<circle cx="388.26" cy="257.19" r="2.05" fill="none" stroke="#a8052f" stroke-width="1.0"/><path d="M386.81,255.74L389.71,258.64M386.81,258.64L389.71,255.74" stroke="#a8052f" stroke-width="0.8"/>
<circle cx="405.60" cy="287.26" r="2.05" fill="none" stroke="#a8052f" stroke-width="1.0"/><path d="M404.15,285.81L407.05,288.71M404.15,288.71L407.05,285.81" stroke="#a8052f" stroke-width="0.8"/>
<circle cx="422.94" cy="302.50" r="2.05" fill="none" stroke="#a8052f" stroke-width="1.0"/><path d="M421.49,301.05L424.39,303.95M421.49,303.95L424.39,301.05" stroke="#a8052f" stroke-width="0.8"/>
<circle cx="440.28" cy="305.64" r="2.05" fill="none" stroke="#a8052f" stroke-width="1.0"/><path d="M438.83,304.19L441.73,307.09M438.83,307.09L441.73,304.19" stroke="#a8052f" stroke-width="0.8"/>
<circle cx="457.62" cy="306.37" r="2.05" fill="none" stroke="#a8052f" stroke-width="1.0"/><path d="M456.17,304.92L459.07,307.82M456.17,307.82L459.07,304.92" stroke="#a8052f" stroke-width="0.8"/>
<circle cx="474.96" cy="306.37" r="2.05" fill="none" stroke="#a8052f" stroke-width="1.0"/><path d="M473.51,304.92L476.41,307.82M473.51,307.82L476.41,304.92" stroke="#a8052f" stroke-width="0.8"/>
<circle cx="492.30" cy="306.37" r="2.05" fill="none" stroke="#a8052f" stroke-width="1.0"/><path d="M490.85,304.92L493.75,307.82M490.85,307.82L493.75,304.92" stroke="#a8052f" stroke-width="0.8"/>
<circle cx="509.64" cy="306.68" r="2.05" fill="none" stroke="#a8052f" stroke-width="1.0"/><path d="M508.19,305.23L511.09,308.13M508.19,308.13L511.09,305.23" stroke="#a8052f" stroke-width="0.8"/>
</g>
<path d="M319.5,207.5H509.9V311.9H319.5Z" fill="none" stroke="#161616" stroke-width="1.4"/>
<path d="M316.50,207.50H319.5 M318.00,212.72H319.5 M318.00,217.94H319.5 M318.00,223.16H319.5 M316.50,228.38H319.5 M318.00,233.60H319.5 M318.00,238.82H319.5 M318.00,244.04H319.5 M316.50,249.26H319.5 M318.00,254.48H319.5 M318.00,259.70H319.5 M318.00,264.92H319.5 M316.50,270.14H319.5 M318.00,275.36H319.5 M318.00,280.58H319.5 M318.00,285.80H319.5 M316.50,291.02H319.5 M318.00,296.24H319.5 M318.00,301.46H319.5 M318.00,306.68H319.5 M316.50,311.90H319.5 M319.50,311.9V314.90 M336.84,311.9V313.50 M346.98,311.9V313.50 M354.18,311.9V313.50 M359.76,311.9V313.50 M364.32,311.9V313.50 M368.18,311.9V313.50 M371.52,311.9V313.50 M374.46,311.9V313.50 M377.10,311.9V314.90 M394.44,311.9V313.50 M404.58,311.9V313.50 M411.78,311.9V313.50 M417.36,311.9V313.50 M421.92,311.9V313.50 M425.78,311.9V313.50 M429.12,311.9V313.50 M432.06,311.9V313.50 M434.70,311.9V314.90 M452.04,311.9V313.50 M462.18,311.9V313.50 M469.38,311.9V313.50 M474.96,311.9V313.50 M479.52,311.9V313.50 M483.38,311.9V313.50 M486.72,311.9V313.50 M489.66,311.9V313.50 M492.30,311.9V314.90 M509.64,311.9V313.50" stroke="#111" stroke-width="0.9" fill="none"/>
<text x="313.00" y="210.30" font-size="8.4" text-anchor="end" fill="#1a1a1a">100%</text>
<text x="313.00" y="231.18" font-size="8.4" text-anchor="end" fill="#1a1a1a">80%</text>
<text x="313.00" y="252.06" font-size="8.4" text-anchor="end" fill="#1a1a1a">60%</text>
<text x="313.00" y="272.94" font-size="8.4" text-anchor="end" fill="#1a1a1a">40%</text>
<text x="313.00" y="293.82" font-size="8.4" text-anchor="end" fill="#1a1a1a">20%</text>
<text x="313.00" y="314.70" font-size="8.4" text-anchor="end" fill="#1a1a1a">0%</text>
<text x="319.50" y="325.70" font-size="8.4" text-anchor="middle" fill="#1a1a1a">0.1 nM</text>
<text x="377.10" y="325.70" font-size="8.4" text-anchor="middle" fill="#1a1a1a">1.0 nM</text>
<text x="434.70" y="325.70" font-size="8.4" text-anchor="middle" fill="#1a1a1a">10.0 nM</text>
<text x="492.30" y="325.70" font-size="8.4" text-anchor="middle" fill="#1a1a1a">100.0 nM</text>
<text x="414.70" y="339.60" font-size="10.6" class="b" text-anchor="middle" textLength="74.1" lengthAdjust="spacingAndGlyphs" fill="#1a1a1a">Sorafenib concentration</text>
<text transform="translate(273.50,259.70) rotate(-90)" x="0" y="0" font-size="10.4" class="b" text-anchor="middle" textLength="63.6" lengthAdjust="spacingAndGlyphs" fill="#1a1a1a">Cellular proliferation</text>
<text transform="translate(284.60,259.70) rotate(-90)" x="0" y="0" font-size="10.4" class="b" text-anchor="middle" textLength="78.4" lengthAdjust="spacingAndGlyphs" fill="#1a1a1a">(normalized to untreated)</text>
<text class="t" x="157.95" y="360.80" font-size="10" text-anchor="middle" textLength="47.7" lengthAdjust="spacingAndGlyphs" fill="#1a1a1a">Crenolanib</text>
<g clip-path="url(#c0)">
<polyline points="62.31,371.50 79.65,370.04 96.99,374.30 114.32,370.04 131.66,370.04 149.00,367.23 166.34,383.98 183.68,373.26 201.02,380.23 218.36,417.26 235.70,453.14 253.04,459.58" fill="none" stroke="#a8052f" stroke-width="1.5" stroke-linejoin="round"/>
<circle cx="79.65" cy="370.04" r="2.05" fill="none" stroke="#a8052f" stroke-width="1.0"/><path d="M78.20,368.59L81.10,371.49M78.20,371.49L81.10,368.59" stroke="#a8052f" stroke-width="0.8"/>
<circle cx="96.99" cy="374.30" r="2.05" fill="none" stroke="#a8052f" stroke-width="1.0"/><path d="M95.54,372.85L98.44,375.75M95.54,375.75L98.44,372.85" stroke="#a8052f" stroke-width="0.8"/>
<circle cx="114.32" cy="370.04" r="2.05" fill="none" stroke="#a8052f" stroke-width="1.0"/><path d="M112.87,368.59L115.77,371.49M112.87,371.49L115.77,368.59" stroke="#a8052f" stroke-width="0.8"/>
<circle cx="131.66" cy="370.04" r="2.05" fill="none" stroke="#a8052f" stroke-width="1.0"/><path d="M130.21,368.59L133.11,371.49M130.21,371.49L133.11,368.59" stroke="#a8052f" stroke-width="0.8"/>
<circle cx="149.00" cy="367.23" r="2.05" fill="none" stroke="#a8052f" stroke-width="1.0"/><path d="M147.55,365.78L150.45,368.68M147.55,368.68L150.45,365.78" stroke="#a8052f" stroke-width="0.8"/>
<circle cx="166.34" cy="383.98" r="2.05" fill="none" stroke="#a8052f" stroke-width="1.0"/><path d="M164.89,382.53L167.79,385.43M164.89,385.43L167.79,382.53" stroke="#a8052f" stroke-width="0.8"/>
<circle cx="183.68" cy="373.26" r="2.05" fill="none" stroke="#a8052f" stroke-width="1.0"/><path d="M182.23,371.81L185.13,374.71M182.23,374.71L185.13,371.81" stroke="#a8052f" stroke-width="0.8"/>
<circle cx="201.02" cy="380.23" r="2.05" fill="none" stroke="#a8052f" stroke-width="1.0"/><path d="M199.57,378.78L202.47,381.68M199.57,381.68L202.47,378.78" stroke="#a8052f" stroke-width="0.8"/>
<circle cx="218.36" cy="417.26" r="2.05" fill="none" stroke="#a8052f" stroke-width="1.0"/><path d="M216.91,415.81L219.81,418.71M216.91,418.71L219.81,415.81" stroke="#a8052f" stroke-width="0.8"/>
<circle cx="235.70" cy="453.14" r="2.05" fill="none" stroke="#a8052f" stroke-width="1.0"/><path d="M234.25,451.69L237.15,454.59M234.25,454.59L237.15,451.69" stroke="#a8052f" stroke-width="0.8"/>
<circle cx="253.04" cy="459.58" r="2.05" fill="none" stroke="#a8052f" stroke-width="1.0"/><path d="M251.59,458.13L254.49,461.03M251.59,461.03L254.49,458.13" stroke="#a8052f" stroke-width="0.8"/>
<polyline points="62.31,367.96 79.65,367.65 96.99,367.44 114.32,366.71 131.66,368.06 149.00,370.25 166.34,375.45 183.68,380.65 201.02,408.52 218.36,445.44 235.70,454.80 253.04,459.90" fill="none" stroke="#1d3f80" stroke-width="1.5" stroke-linejoin="round" stroke-dasharray="8 5.5"/>
<path d="M79.65,365.15L82.15,367.65L79.65,370.15L77.15,367.65Z" fill="#1d3f80"/>
<path d="M96.99,364.94L99.49,367.44L96.99,369.94L94.49,367.44Z" fill="#1d3f80"/>
<path d="M114.32,364.21L116.82,366.71L114.32,369.21L111.82,366.71Z" fill="#1d3f80"/>
<path d="M131.66,365.56L134.16,368.06L131.66,370.56L129.16,368.06Z" fill="#1d3f80"/>
<path d="M149.00,367.75L151.50,370.25L149.00,372.75L146.50,370.25Z" fill="#1d3f80"/>
<path d="M166.34,372.95L168.84,375.45L166.34,377.95L163.84,375.45Z" fill="#1d3f80"/>
<path d="M183.68,378.15L186.18,380.65L183.68,383.15L181.18,380.65Z" fill="#1d3f80"/>
<path d="M201.02,406.02L203.52,408.52L201.02,411.02L198.52,408.52Z" fill="#1d3f80"/>
<path d="M218.36,442.94L220.86,445.44L218.36,447.94L215.86,445.44Z" fill="#1d3f80"/>
<path d="M235.70,452.30L238.20,454.80L235.70,457.30L233.20,454.80Z" fill="#1d3f80"/>
<path d="M253.04,457.40L255.54,459.90L253.04,462.40L250.54,459.90Z" fill="#1d3f80"/>
<polyline points="62.31,367.44 79.65,366.92 96.99,367.96 114.32,367.96 131.66,366.92 149.00,367.44 166.34,367.44 183.68,367.44 201.02,387.20 218.36,437.74 235.70,456.57 253.04,460.00" fill="none" stroke="#a9c8ee" stroke-width="1.5" stroke-linejoin="round" stroke-dasharray="5.5 2.5"/>
<rect x="77.55" y="364.82" width="4.2" height="4.2" fill="#a9c8ee"/>
<rect x="94.89" y="365.86" width="4.2" height="4.2" fill="#a9c8ee"/>
<rect x="112.22" y="365.86" width="4.2" height="4.2" fill="#a9c8ee"/>
<rect x="129.56" y="364.82" width="4.2" height="4.2" fill="#a9c8ee"/>
<rect x="146.90" y="365.34" width="4.2" height="4.2" fill="#a9c8ee"/>
<rect x="164.24" y="365.34" width="4.2" height="4.2" fill="#a9c8ee"/>
<rect x="181.58" y="365.34" width="4.2" height="4.2" fill="#a9c8ee"/>
<rect x="198.92" y="385.10" width="4.2" height="4.2" fill="#a9c8ee"/>
<rect x="216.26" y="435.64" width="4.2" height="4.2" fill="#a9c8ee"/>
<rect x="233.60" y="454.47" width="4.2" height="4.2" fill="#a9c8ee"/>
<rect x="250.94" y="457.90" width="4.2" height="4.2" fill="#a9c8ee"/>
<polyline points="62.31,367.65 79.65,366.40 96.99,368.06 114.32,367.44 131.66,366.92 149.00,366.40 166.34,366.40 183.68,366.40 201.02,372.74 218.36,413.72 235.70,451.06 253.04,459.58" fill="none" stroke="#4d93da" stroke-width="1.5" stroke-linejoin="round" stroke-dasharray="3.5 2.3"/>
<circle cx="79.65" cy="366.40" r="2.5" fill="#4d93da"/>
<circle cx="96.99" cy="368.06" r="2.5" fill="#4d93da"/>
<circle cx="114.32" cy="367.44" r="2.5" fill="#4d93da"/>
<circle cx="131.66" cy="366.92" r="2.5" fill="#4d93da"/>
<circle cx="149.00" cy="366.40" r="2.5" fill="#4d93da"/>
<circle cx="166.34" cy="366.40" r="2.5" fill="#4d93da"/>
<circle cx="183.68" cy="366.40" r="2.5" fill="#4d93da"/>
<circle cx="201.02" cy="372.74" r="2.5" fill="#4d93da"/>
<circle cx="218.36" cy="413.72" r="2.5" fill="#4d93da"/>
<circle cx="235.70" cy="451.06" r="2.5" fill="#4d93da"/>
<circle cx="253.04" cy="459.58" r="2.5" fill="#4d93da"/>
<polyline points="62.31,369.62 79.65,368.79 96.99,366.50 114.32,369.21 131.66,369.62 149.00,367.02 166.34,369.00 183.68,368.27 201.02,381.38 218.36,433.38 235.70,455.84 253.04,459.90" fill="none" stroke="#e8900f" stroke-width="1.5" stroke-linejoin="round"/>
<path d="M79.65,366.29L82.45,371.19L76.85,371.19Z" fill="#e8900f"/>
<path d="M96.99,364.00L99.79,368.90L94.19,368.90Z" fill="#e8900f"/>
<path d="M114.32,366.71L117.12,371.61L111.52,371.61Z" fill="#e8900f"/>
<path d="M131.66,367.12L134.46,372.02L128.86,372.02Z" fill="#e8900f"/>
<path d="M149.00,364.52L151.80,369.42L146.20,369.42Z" fill="#e8900f"/>
<path d="M166.34,366.50L169.14,371.40L163.54,371.40Z" fill="#e8900f"/>
<path d="M183.68,365.77L186.48,370.67L180.88,370.67Z" fill="#e8900f"/>
<path d="M201.02,378.88L203.82,383.78L198.22,383.78Z" fill="#e8900f"/>
<path d="M218.36,430.88L221.16,435.78L215.56,435.78Z" fill="#e8900f"/>
<path d="M235.70,453.34L238.50,458.24L232.90,458.24Z" fill="#e8900f"/>
<path d="M253.04,457.40L255.84,462.30L250.24,462.30Z" fill="#e8900f"/>
</g>
<path d="M62.9,366.4H253.0V470.4H62.9Z" fill="none" stroke="#161616" stroke-width="1.4"/>
<path d="M59.90,366.40H62.9 M61.40,371.60H62.9 M61.40,376.80H62.9 M61.40,382.00H62.9 M59.90,387.20H62.9 M61.40,392.40H62.9 M61.40,397.60H62.9 M61.40,402.80H62.9 M59.90,408.00H62.9 M61.40,413.20H62.9 M61.40,418.40H62.9 M61.40,423.60H62.9 M59.90,428.80H62.9 M61.40,434.00H62.9 M61.40,439.20H62.9 M61.40,444.40H62.9 M59.90,449.60H62.9 M61.40,454.80H62.9 M61.40,460.00H62.9 M61.40,465.20H62.9 M59.90,470.40H62.9 M62.90,470.4V473.40 M80.24,470.4V472.00 M90.38,470.4V472.00 M97.58,470.4V472.00 M103.16,470.4V472.00 M107.72,470.4V472.00 M111.58,470.4V472.00 M114.92,470.4V472.00 M117.86,470.4V472.00 M120.50,470.4V473.40 M137.84,470.4V472.00 M147.98,470.4V472.00 M155.18,470.4V472.00 M160.76,470.4V472.00 M165.32,470.4V472.00 M169.18,470.4V472.00 M172.52,470.4V472.00 M175.46,470.4V472.00 M178.10,470.4V473.40 M195.44,470.4V472.00 M205.58,470.4V472.00 M212.78,470.4V472.00 M218.36,470.4V472.00 M222.92,470.4V472.00 M226.78,470.4V472.00 M230.12,470.4V472.00 M233.06,470.4V472.00 M235.70,470.4V473.40 M253.04,470.4V472.00" stroke="#111" stroke-width="0.9" fill="none"/>
<text x="56.80" y="369.20" font-size="8.4" text-anchor="end" fill="#1a1a1a">100%</text>
<text x="56.80" y="390.00" font-size="8.4" text-anchor="end" fill="#1a1a1a">80%</text>
<text x="56.80" y="410.80" font-size="8.4" text-anchor="end" fill="#1a1a1a">60%</text>
<text x="56.80" y="431.60" font-size="8.4" text-anchor="end" fill="#1a1a1a">40%</text>
<text x="56.80" y="452.40" font-size="8.4" text-anchor="end" fill="#1a1a1a">20%</text>
<text x="56.80" y="473.20" font-size="8.4" text-anchor="end" fill="#1a1a1a">0%</text>
<text x="62.90" y="484.20" font-size="8.4" text-anchor="middle" fill="#1a1a1a">0.1 nM</text>
<text x="120.50" y="484.20" font-size="8.4" text-anchor="middle" fill="#1a1a1a">1.0 nM</text>
<text x="178.10" y="484.20" font-size="8.4" text-anchor="middle" fill="#1a1a1a">10.0 nM</text>
<text x="235.70" y="484.20" font-size="8.4" text-anchor="middle" fill="#1a1a1a">100.0 nM</text>
<text x="157.95" y="498.50" font-size="10.6" class="b" text-anchor="middle" textLength="76.9" lengthAdjust="spacingAndGlyphs" fill="#1a1a1a">Crenolanib concentration</text>
<text transform="translate(16.50,418.60) rotate(-90)" x="0" y="0" font-size="10.4" class="b" text-anchor="middle" textLength="63.6" lengthAdjust="spacingAndGlyphs" fill="#1a1a1a">Cellular proliferation</text>
<text transform="translate(27.60,418.60) rotate(-90)" x="0" y="0" font-size="10.4" class="b" text-anchor="middle" textLength="78.4" lengthAdjust="spacingAndGlyphs" fill="#1a1a1a">(normalized to untreated)</text>
<text class="t" x="415.20" y="360.80" font-size="10" text-anchor="middle" textLength="40.4" lengthAdjust="spacingAndGlyphs" fill="#1a1a1a">Ponatinib</text>
<g clip-path="url(#c1)">
<polyline points="318.91,378.26 336.25,376.80 353.59,367.44 370.92,379.82 388.26,381.90 405.60,401.76 422.94,449.60 440.28,458.44 457.62,461.04 474.96,462.08 492.30,462.08 509.64,462.08" fill="none" stroke="#a8052f" stroke-width="1.5" stroke-linejoin="round"/>
<circle cx="336.25" cy="376.80" r="2.05" fill="none" stroke="#a8052f" stroke-width="1.0"/><path d="M334.80,375.35L337.70,378.25M334.80,378.25L337.70,375.35" stroke="#a8052f" stroke-width="0.8"/>
<circle cx="353.59" cy="367.44" r="2.05" fill="none" stroke="#a8052f" stroke-width="1.0"/><path d="M352.14,365.99L355.04,368.89M352.14,368.89L355.04,365.99" stroke="#a8052f" stroke-width="0.8"/>
<circle cx="370.92" cy="379.82" r="2.05" fill="none" stroke="#a8052f" stroke-width="1.0"/><path d="M369.47,378.37L372.37,381.27M369.47,381.27L372.37,378.37" stroke="#a8052f" stroke-width="0.8"/>
<circle cx="388.26" cy="381.90" r="2.05" fill="none" stroke="#a8052f" stroke-width="1.0"/><path d="M386.81,380.45L389.71,383.35M386.81,383.35L389.71,380.45" stroke="#a8052f" stroke-width="0.8"/>
<circle cx="405.60" cy="401.76" r="2.05" fill="none" stroke="#a8052f" stroke-width="1.0"/><path d="M404.15,400.31L407.05,403.21M404.15,403.21L407.05,400.31" stroke="#a8052f" stroke-width="0.8"/>
<circle cx="422.94" cy="449.60" r="2.05" fill="none" stroke="#a8052f" stroke-width="1.0"/><path d="M421.49,448.15L424.39,451.05M421.49,451.05L424.39,448.15" stroke="#a8052f" stroke-width="0.8"/>
<circle cx="440.28" cy="458.44" r="2.05" fill="none" stroke="#a8052f" stroke-width="1.0"/><path d="M438.83,456.99L441.73,459.89M438.83,459.89L441.73,456.99" stroke="#a8052f" stroke-width="0.8"/>
<circle cx="457.62" cy="461.04" r="2.05" fill="none" stroke="#a8052f" stroke-width="1.0"/><path d="M456.17,459.59L459.07,462.49M456.17,462.49L459.07,459.59" stroke="#a8052f" stroke-width="0.8"/>
<circle cx="474.96" cy="462.08" r="2.05" fill="none" stroke="#a8052f" stroke-width="1.0"/><path d="M473.51,460.63L476.41,463.53M473.51,463.53L476.41,460.63" stroke="#a8052f" stroke-width="0.8"/>
<circle cx="492.30" cy="462.08" r="2.05" fill="none" stroke="#a8052f" stroke-width="1.0"/><path d="M490.85,460.63L493.75,463.53M490.85,463.53L493.75,460.63" stroke="#a8052f" stroke-width="0.8"/>
<circle cx="509.64" cy="462.08" r="2.05" fill="none" stroke="#a8052f" stroke-width="1.0"/><path d="M508.19,460.63L511.09,463.53M508.19,463.53L511.09,460.63" stroke="#a8052f" stroke-width="0.8"/>
<polyline points="318.91,368.79 336.25,367.86 353.59,366.40 370.92,371.81 388.26,377.32 405.60,410.70 422.94,447.00 440.28,454.80 457.62,457.61 474.96,458.96 492.30,459.17 509.64,459.48" fill="none" stroke="#1d3f80" stroke-width="1.5" stroke-linejoin="round" stroke-dasharray="8 5.5"/>
<path d="M336.25,365.36L338.75,367.86L336.25,370.36L333.75,367.86Z" fill="#1d3f80"/>
<path d="M353.59,363.90L356.09,366.40L353.59,368.90L351.09,366.40Z" fill="#1d3f80"/>
<path d="M370.92,369.31L373.42,371.81L370.92,374.31L368.42,371.81Z" fill="#1d3f80"/>
<path d="M388.26,374.82L390.76,377.32L388.26,379.82L385.76,377.32Z" fill="#1d3f80"/>
<path d="M405.60,408.20L408.10,410.70L405.60,413.20L403.10,410.70Z" fill="#1d3f80"/>
<path d="M422.94,444.50L425.44,447.00L422.94,449.50L420.44,447.00Z" fill="#1d3f80"/>
<path d="M440.28,452.30L442.78,454.80L440.28,457.30L437.78,454.80Z" fill="#1d3f80"/>
<path d="M457.62,455.11L460.12,457.61L457.62,460.11L455.12,457.61Z" fill="#1d3f80"/>
<path d="M474.96,456.46L477.46,458.96L474.96,461.46L472.46,458.96Z" fill="#1d3f80"/>
<path d="M492.30,456.67L494.80,459.17L492.30,461.67L489.80,459.17Z" fill="#1d3f80"/>
<path d="M509.64,456.98L512.14,459.48L509.64,461.98L507.14,459.48Z" fill="#1d3f80"/>
<polyline points="318.91,368.79 336.25,366.50 353.59,369.52 370.92,374.82 388.26,376.07 405.60,395.21 422.94,447.52 440.28,456.88 457.62,460.00 474.96,461.77 492.30,462.08 509.64,462.08" fill="none" stroke="#a9c8ee" stroke-width="1.5" stroke-linejoin="round" stroke-dasharray="5.5 2.5"/>
<rect x="334.15" y="364.40" width="4.2" height="4.2" fill="#a9c8ee"/>
<rect x="351.49" y="367.42" width="4.2" height="4.2" fill="#a9c8ee"/>
<rect x="368.82" y="372.72" width="4.2" height="4.2" fill="#a9c8ee"/>
<rect x="386.16" y="373.97" width="4.2" height="4.2" fill="#a9c8ee"/>
<rect x="403.50" y="393.11" width="4.2" height="4.2" fill="#a9c8ee"/>
<rect x="420.84" y="445.42" width="4.2" height="4.2" fill="#a9c8ee"/>
<rect x="438.18" y="454.78" width="4.2" height="4.2" fill="#a9c8ee"/>
<rect x="455.52" y="457.90" width="4.2" height="4.2" fill="#a9c8ee"/>
<rect x="472.86" y="459.67" width="4.2" height="4.2" fill="#a9c8ee"/>
<rect x="490.20" y="459.98" width="4.2" height="4.2" fill="#a9c8ee"/>
<rect x="507.54" y="459.98" width="4.2" height="4.2" fill="#a9c8ee"/>
<polyline points="318.91,369.52 336.25,367.23 353.59,366.40 370.92,370.46 388.26,374.82 405.60,380.75 422.94,440.45 440.28,453.97 457.62,459.48 474.96,461.77 492.30,462.08 509.64,462.08" fill="none" stroke="#4d93da" stroke-width="1.5" stroke-linejoin="round" stroke-dasharray="3.5 2.3"/>
<circle cx="336.25" cy="367.23" r="2.5" fill="#4d93da"/>
<circle cx="353.59" cy="366.40" r="2.5" fill="#4d93da"/>
<circle cx="370.92" cy="370.46" r="2.5" fill="#4d93da"/>
<circle cx="388.26" cy="374.82" r="2.5" fill="#4d93da"/>
<circle cx="405.60" cy="380.75" r="2.5" fill="#4d93da"/>
<circle cx="422.94" cy="440.45" r="2.5" fill="#4d93da"/>
<circle cx="440.28" cy="453.97" r="2.5" fill="#4d93da"/>
<circle cx="457.62" cy="459.48" r="2.5" fill="#4d93da"/>
<circle cx="474.96" cy="461.77" r="2.5" fill="#4d93da"/>
<circle cx="492.30" cy="462.08" r="2.5" fill="#4d93da"/>
<circle cx="509.64" cy="462.08" r="2.5" fill="#4d93da"/>
<polyline points="318.91,371.81 336.25,369.52 353.59,366.50 370.92,370.77 388.26,373.16 405.60,403.32 422.94,448.35 440.28,457.61 457.62,459.38 474.96,460.73 492.30,460.83 509.64,460.83" fill="none" stroke="#e8900f" stroke-width="1.5" stroke-linejoin="round"/>
<path d="M336.25,367.02L339.05,371.92L333.45,371.92Z" fill="#e8900f"/>
<path d="M353.59,364.00L356.39,368.90L350.79,368.90Z" fill="#e8900f"/>
<path d="M370.92,368.27L373.72,373.17L368.12,373.17Z" fill="#e8900f"/>
<path d="M388.26,370.66L391.06,375.56L385.46,375.56Z" fill="#e8900f"/>
<path d="M405.60,400.82L408.40,405.72L402.80,405.72Z" fill="#e8900f"/>
<path d="M422.94,445.85L425.74,450.75L420.14,450.75Z" fill="#e8900f"/>
<path d="M440.28,455.11L443.08,460.01L437.48,460.01Z" fill="#e8900f"/>
<path d="M457.62,456.88L460.42,461.78L454.82,461.78Z" fill="#e8900f"/>
<path d="M474.96,458.23L477.76,463.13L472.16,463.13Z" fill="#e8900f"/>
<path d="M492.30,458.33L495.10,463.23L489.50,463.23Z" fill="#e8900f"/>
<path d="M509.64,458.33L512.44,463.23L506.84,463.23Z" fill="#e8900f"/>
</g>
<path d="M319.5,366.4H509.9V470.4H319.5Z" fill="none" stroke="#161616" stroke-width="1.4"/>
<path d="M316.50,366.40H319.5 M318.00,371.60H319.5 M318.00,376.80H319.5 M318.00,382.00H319.5 M316.50,387.20H319.5 M318.00,392.40H319.5 M318.00,397.60H319.5 M318.00,402.80H319.5 M316.50,408.00H319.5 M318.00,413.20H319.5 M318.00,418.40H319.5 M318.00,423.60H319.5 M316.50,428.80H319.5 M318.00,434.00H319.5 M318.00,439.20H319.5 M318.00,444.40H319.5 M316.50,449.60H319.5 M318.00,454.80H319.5 M318.00,460.00H319.5 M318.00,465.20H319.5 M316.50,470.40H319.5 M319.50,470.4V473.40 M336.84,470.4V472.00 M346.98,470.4V472.00 M354.18,470.4V472.00 M359.76,470.4V472.00 M364.32,470.4V472.00 M368.18,470.4V472.00 M371.52,470.4V472.00 M374.46,470.4V472.00 M377.10,470.4V473.40 M394.44,470.4V472.00 M404.58,470.4V472.00 M411.78,470.4V472.00 M417.36,470.4V472.00 M421.92,470.4V472.00 M425.78,470.4V472.00 M429.12,470.4V472.00 M432.06,470.4V472.00 M434.70,470.4V473.40 M452.04,470.4V472.00 M462.18,470.4V472.00 M469.38,470.4V472.00 M474.96,470.4V472.00 M479.52,470.4V472.00 M483.38,470.4V472.00 M486.72,470.4V472.00 M489.66,470.4V472.00 M492.30,470.4V473.40 M509.64,470.4V472.00" stroke="#111" stroke-width="0.9" fill="none"/>
<text x="313.00" y="369.20" font-size="8.4" text-anchor="end" fill="#1a1a1a">100%</text>
<text x="313.00" y="390.00" font-size="8.4" text-anchor="end" fill="#1a1a1a">80%</text>
<text x="313.00" y="410.80" font-size="8.4" text-anchor="end" fill="#1a1a1a">60%</text>
<text x="313.00" y="431.60" font-size="8.4" text-anchor="end" fill="#1a1a1a">40%</text>
<text x="313.00" y="452.40" font-size="8.4" text-anchor="end" fill="#1a1a1a">20%</text>
<text x="313.00" y="473.20" font-size="8.4" text-anchor="end" fill="#1a1a1a">0%</text>
<text x="319.50" y="484.20" font-size="8.4" text-anchor="middle" fill="#1a1a1a">0.1 nM</text>
<text x="377.10" y="484.20" font-size="8.4" text-anchor="middle" fill="#1a1a1a">1.0 nM</text>
<text x="434.70" y="484.20" font-size="8.4" text-anchor="middle" fill="#1a1a1a">10.0 nM</text>
<text x="492.30" y="484.20" font-size="8.4" text-anchor="middle" fill="#1a1a1a">100.0 nM</text>
<text x="414.70" y="498.50" font-size="10.6" class="b" text-anchor="middle" textLength="74" lengthAdjust="spacingAndGlyphs" fill="#1a1a1a">Ponatinib concentration</text>
<text transform="translate(273.50,418.60) rotate(-90)" x="0" y="0" font-size="10.4" class="b" text-anchor="middle" textLength="63.6" lengthAdjust="spacingAndGlyphs" fill="#1a1a1a">Cellular proliferation</text>
<text transform="translate(284.60,418.60) rotate(-90)" x="0" y="0" font-size="10.4" class="b" text-anchor="middle" textLength="78.4" lengthAdjust="spacingAndGlyphs" fill="#1a1a1a">(normalized to untreated)</text>
<line x1="108.6" y1="515" x2="128.0" y2="515" stroke="#a8052f" stroke-width="1.6"/>
<circle cx="118.40" cy="515.00" r="2.05" fill="none" stroke="#a8052f" stroke-width="1.0"/><path d="M116.95,513.55L119.85,516.45M116.95,516.45L119.85,513.55" stroke="#a8052f" stroke-width="0.8"/>
<text class="l" x="131.3" y="517.9" font-size="8.3" textLength="31.6" lengthAdjust="spacingAndGlyphs" fill="#1a1a1a">FLT3/ITD</text>
<line x1="172.2" y1="515" x2="191.8" y2="515" stroke="#1d3f80" stroke-width="1.6" stroke-dasharray="8 5.5"/>
<path d="M182.10,512.50L184.60,515.00L182.10,517.50L179.60,515.00Z" fill="#1d3f80"/>
<text class="l" x="194.4" y="517.9" font-size="8.3" textLength="43.0" lengthAdjust="spacingAndGlyphs" fill="#1a1a1a">FLT3/Y572<tspan font-size="7">Δ</tspan></text>
<line x1="246.9" y1="515" x2="266.2" y2="515" stroke="#a9c8ee" stroke-width="1.6" stroke-dasharray="5.5 2.5"/>
<rect x="254.50" y="512.90" width="4.2" height="4.2" fill="#a9c8ee"/>
<text class="l" x="269.8" y="517.9" font-size="8.3" textLength="42.2" lengthAdjust="spacingAndGlyphs" fill="#1a1a1a">FLT3/E573<tspan font-size="7">Δ</tspan></text>
<line x1="321.2" y1="515" x2="341.1" y2="515" stroke="#4d93da" stroke-width="1.6" stroke-dasharray="3.5 2.3"/>
<circle cx="331.30" cy="515.00" r="2.5" fill="#4d93da"/>
<text class="l" x="344.4" y="517.9" font-size="8.3" textLength="42.0" lengthAdjust="spacingAndGlyphs" fill="#1a1a1a">FLT3/S574<tspan font-size="7">Δ</tspan></text>
<line x1="395.9" y1="515" x2="415.7" y2="515" stroke="#e8900f" stroke-width="1.6"/>
<path d="M405.80,512.50L408.60,517.40L403.00,517.40Z" fill="#e8900f"/>
<text class="l" x="418.7" y="517.9" font-size="8.3" textLength="44.8" lengthAdjust="spacingAndGlyphs" fill="#1a1a1a">FLT3/Q575<tspan font-size="7">Δ</tspan></text>
<rect x="0.5" y="0.5" width="519" height="526" fill="none" stroke="#000" stroke-width="1"/>
</svg></body></html>
